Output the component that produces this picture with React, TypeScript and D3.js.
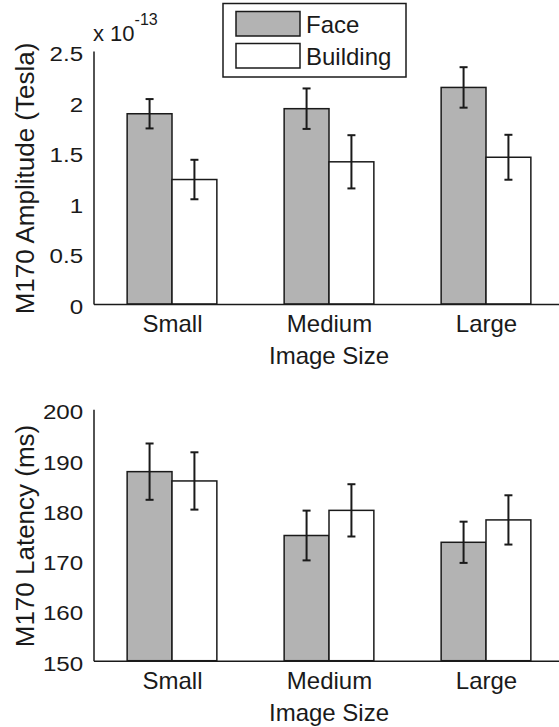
import React, { useEffect, useRef } from "react";
import * as d3 from "d3";

// image size categories
const categories = ["Small", "Medium", "Large"];

// M170 amplitude (x 10^-13 Tesla)
const ampFace = [1.88, 1.93, 2.14];
const ampFaceErr = [0.145, 0.2, 0.2];
const ampBuilding = [1.23, 1.405, 1.45];
const ampBuildingErr = [0.195, 0.263, 0.222];

// M170 latency (ms)
const latFace = [187.6, 174.9, 173.55];
const latFaceErr = [5.6, 4.95, 4.1];
const latBuilding = [185.75, 179.9, 178.0];
const latBuildingErr = [5.7, 5.2, 4.9];

const ampTicks = [0, 0.5, 1, 1.5, 2, 2.5];
const latTicks = [150, 160, 170, 180, 190, 200];

const seriesNames = ["Face", "Building"];
const seriesFill = ["#b3b3b3", "#ffffff"];

const FONT = "'Liberation Sans', Arial, Helvetica, sans-serif";
const INK = "#1a1a1a";

const App = () => {
  const svgRef = useRef<SVGSVGElement>(null);

  useEffect(() => {
    const svg = d3.select(svgRef.current);
    svg.selectAll("*").remove();

    // shared x scale: groups at 1,2,3, axis limits 0.5..3.5 (right end cropped)
    const x = d3.scaleLinear().domain([0.5, 3.5]).range([93.5, 564.5]);
    const groupWidth = 2 / 3.5;
    const barW = groupWidth / 2;

    const panels = [
      {
        y: d3.scaleLinear().domain([0, 2.5]).range([304, 51]),
        ticks: ampTicks,
        face: ampFace, faceErr: ampFaceErr,
        building: ampBuilding, buildingErr: ampBuildingErr,
        label: "M170 Amplitude (Tesla)",
      },
      {
        y: d3.scaleLinear().domain([150, 200]).range([660.7, 409.3]),
        ticks: latTicks,
        face: latFace, faceErr: latFaceErr,
        building: latBuilding, buildingErr: latBuildingErr,
        label: "M170 Latency (ms)",
      },
    ];

    panels.forEach((p) => {
      const g = svg.append("g");
      const y0 = p.y.range()[0];
      const yMin = p.y.domain()[0];

      const series = [
        { vals: p.face, errs: p.faceErr, offset: -barW / 2, fill: seriesFill[0] },
        { vals: p.building, errs: p.buildingErr, offset: barW / 2, fill: seriesFill[1] },
      ];

      series.forEach((s) => {
        s.vals.forEach((v, i) => {
          const cx = i + 1 + s.offset;
          g.append("rect")
            .attr("x", x(cx - barW / 2))
            .attr("y", p.y(v))
            .attr("width", x(cx + barW / 2) - x(cx - barW / 2))
            .attr("height", y0 - p.y(v))
            .attr("fill", s.fill)
            .attr("stroke", INK)
            .attr("stroke-width", 1.5);
        });
      });

      // error bars
      series.forEach((s) => {
        s.vals.forEach((v, i) => {
          const cx = x(i + 1 + s.offset);
          const hi = p.y(v + s.errs[i]);
          const lo = p.y(Math.max(yMin, v - s.errs[i]));
          const eb = g.append("g").attr("stroke", INK).attr("stroke-width", 2);
          eb.append("line").attr("x1", cx).attr("x2", cx).attr("y1", hi).attr("y2", lo);
          eb.append("line").attr("x1", cx - 4).attr("x2", cx + 4).attr("y1", hi).attr("y2", hi);
          eb.append("line").attr("x1", cx - 4).attr("x2", cx + 4).attr("y1", lo).attr("y2", lo);
        });
      });

      // y axis
      const yAxis = g.append("g")
        .attr("transform", `translate(${x(0.5)},0)`)
        .call(d3.axisLeft(p.y).tickValues(p.ticks).tickSize(0).tickPadding(9)
          .tickFormat((d) => String(d)));
      yAxis.select(".domain").attr("stroke", INK).attr("stroke-width", 1.5);
      yAxis.selectAll("text")
        .attr("font-family", FONT)
        .attr("font-size", 21)
        .attr("fill", INK)
        .attr("dy", "0.45em")
        .attr("transform", "scale(1.15,1)");

      // x axis
      const xAxis = g.append("g")
        .attr("transform", `translate(0,${y0})`)
        .call(d3.axisBottom(x).tickValues([1, 2, 3]).tickSize(0).tickPadding(11)
          .tickFormat((d, i) => categories[i]));
      xAxis.select(".domain").attr("stroke", INK).attr("stroke-width", 1.5);
      xAxis.selectAll("text")
        .attr("font-family", FONT)
        .attr("font-size", 24)
        .attr("fill", INK);

      g.append("text")
        .attr("x", x(2))
        .attr("y", y0 + 60)
        .attr("text-anchor", "middle")
        .attr("font-family", FONT)
        .attr("font-size", 24)
        .attr("fill", INK)
        .text("Image Size");

      const yMid = (p.y.range()[0] + p.y.range()[1]) / 2;
      g.append("text")
        .attr("transform", `translate(33.5,${yMid + 1}) rotate(-90)`)
        .attr("text-anchor", "middle")
        .attr("font-family", FONT)
        .attr("font-size", 26)
        .attr("fill", INK)
        .text(p.label);
    });

    // exponent label on top panel
    const ex = svg.append("text")
      .attr("x", 93)
      .attr("y", 40.5)
      .attr("font-family", FONT)
      .attr("font-size", 22)
      .attr("fill", INK);
    ex.append("tspan").text("x 10");
    ex.append("tspan").attr("font-size", 16).attr("dy", -16).text("-13");

    // legend
    const lg = svg.append("g");
    lg.append("rect")
      .attr("x", 223).attr("y", 3.5).attr("width", 183).attr("height", 73.5)
      .attr("fill", "#fff").attr("stroke", INK).attr("stroke-width", 1.5);
    seriesNames.forEach((name, i) => {
      const top = i === 0 ? 11.5 : 43.5;
      lg.append("rect")
        .attr("x", 236).attr("y", top).attr("width", 64).attr("height", 24.5)
        .attr("fill", seriesFill[i]).attr("stroke", INK).attr("stroke-width", 1.5);
      lg.append("text")
        .attr("x", 306).attr("y", top + 21)
        .attr("font-family", FONT).attr("font-size", 24).attr("fill", INK)
        .text(name);
    });
  }, []);

  return (
    <svg
      ref={svgRef}
      width={559}
      height={727}
      style={{ position: "absolute", left: 0, top: 0, background: "#fff" }}
    />
  );
};

export default App;
